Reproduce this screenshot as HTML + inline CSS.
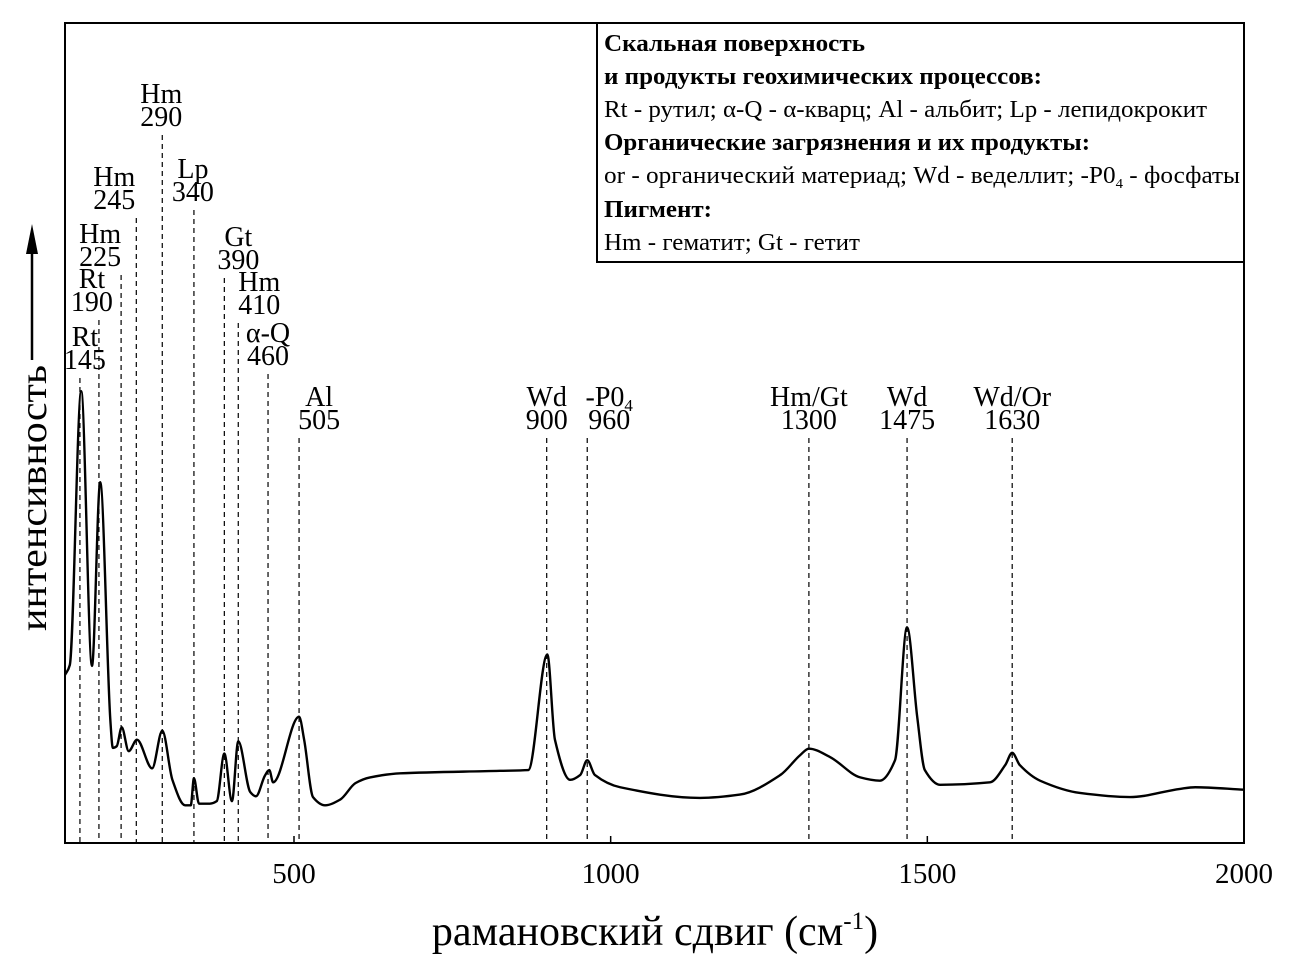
<!DOCTYPE html>
<html><head><meta charset="utf-8"><style>
body{margin:0;background:#fff;}
svg{display:block;font-family:"Liberation Serif",serif;}
</style></head><body>
<svg id="chart" width="1289" height="972" viewBox="0 0 1289 972">
<rect x="65" y="23" width="1179" height="820" fill="none" stroke="#000" stroke-width="2"/>
<g id="peaks"></g>
<path id="spec" fill="none" stroke="#000" stroke-width="2.4"/>
<g id="xt"></g>
<text x="655" y="945" text-anchor="middle" font-size="42">рамановский сдвиг (см<tspan font-size="25" dy="-16">-1</tspan><tspan dy="16">)</tspan></text>
<g>
<text transform="translate(46,631) rotate(-90)" font-size="38" textLength="266" lengthAdjust="spacingAndGlyphs">интенсивность</text>
<line x1="32" y1="360" x2="32" y2="250" stroke="#000" stroke-width="2.5"/>
<polygon points="26,254 38,254 32,224" fill="#000"/>
</g>
<g>
<rect x="597" y="23" width="647" height="239" fill="#fff" stroke="#000" stroke-width="2"/>
<g font-size="24">
<text x="604" y="51" font-weight="bold" textLength="261" lengthAdjust="spacingAndGlyphs">Скальная поверхность</text>
<text x="604" y="84" font-weight="bold" textLength="438" lengthAdjust="spacingAndGlyphs">и продукты геохимических процессов:</text>
<text x="604" y="117" textLength="603" lengthAdjust="spacingAndGlyphs">Rt - рутил; α-Q - α-кварц; Al - альбит; Lp - лепидокрокит</text>
<text x="604" y="150" font-weight="bold" textLength="486" lengthAdjust="spacingAndGlyphs">Органические загрязнения и их продукты:</text>
<text x="604" y="183" textLength="636" lengthAdjust="spacingAndGlyphs">or - органический материад; Wd - веделлит; -P0<tspan font-size="14" dy="5">4</tspan><tspan dy="-5"> - фосфаты</tspan></text>
<text x="604" y="217" font-weight="bold" textLength="108" lengthAdjust="spacingAndGlyphs">Пигмент:</text>
<text x="604" y="250" textLength="256" lengthAdjust="spacingAndGlyphs">Hm - гематит; Gt - гетит</text>
</g></g>
</svg>
<script>
const wavenumbers=[138.5,146,164,181,194,210,214,220,228,239,252,276,292,308,328,337,342,350,367,378,390,402,412,431,440,454,461,467,508,516,530,549,573,597,620,668,825,870,900,912,936,952,963,975,1015,1141,1204,1268,1299,1313,1346,1394,1425,1449,1468,1484,1496,1520,1599,1623,1634,1646,1678,1741,1820,1899,1923,2000];
const intensities=[20.5,21.7,55.1,21.6,44.0,15.0,11.6,11.8,14.1,11.2,12.6,9.1,13.7,7.7,4.6,4.6,7.9,4.8,4.8,5.1,10.9,5.1,12.4,6.2,5.7,8.2,8.9,7.4,15.4,12.6,5.6,4.6,5.3,7.3,8.0,8.5,8.8,8.9,23.0,12.6,7.7,8.3,10.1,8.3,6.8,5.5,5.9,8.3,10.7,11.5,10.5,8.0,7.6,10.1,26.3,15.4,8.9,7.1,7.4,9.5,11.0,9.5,7.6,6.1,5.6,6.6,6.8,6.5];
const peakNames=["Rt","Rt","Hm","Hm","Hm","Lp","Gt","Hm","α-Q","Al","Wd","-P0","Hm/Gt","Wd","Wd/Or"];
const peakLabels=["145","190","225","245","290","340","390","410","460","505","900","960","1300","1475","1630"];
const peakPos=[162,192,227,251,292,342,390,412,459,508,899,963,1313,1468,1634];
const xTicks=[500,1000,1500,2000];
// layout for labels (pixel offsets / baselines)
const labelDx=[5,-7,-21,-22,-1,-1,14,21,0,20,0,22,0,0,0];
const labelY=[346,288,243,186,103,178,246,291,342,406,406,406,406,406,406];
const NS="http://www.w3.org/2000/svg";
const X=v=>294+(v-500)*0.63333;
const Y=i=>843-i*8.2;
const pk=document.getElementById('peaks');
for(let k=0;k<peakPos.length;k++){
  const x=X(peakPos[k]);
  const ln=document.createElementNS(NS,'line');
  
  
  ln.setAttribute('x1',x);ln.setAttribute('x2',x);
  ln.setAttribute('y1',labelY[k]+32);ln.setAttribute('y2',843);
  ln.setAttribute('stroke','#000');ln.setAttribute('stroke-width','1.2');ln.setAttribute('stroke-dasharray','5,4');
  pk.appendChild(ln);
  const cx=x+labelDx[k];
  const t1=document.createElementNS(NS,'text');
  
  
  t1.setAttribute('x',cx);t1.setAttribute('y',labelY[k]);t1.setAttribute('text-anchor','middle');t1.setAttribute('font-size','28');
  t1.textContent=peakNames[k];
  if(peakNames[k]==='-P0'){const s=document.createElementNS(NS,'tspan');s.setAttribute('font-size','17');s.setAttribute('dy','5');s.textContent='4';t1.appendChild(s);}
  pk.appendChild(t1);
  const t2=document.createElementNS(NS,'text');
  
  
  t2.setAttribute('x',cx);t2.setAttribute('y',labelY[k]+23);t2.setAttribute('text-anchor','middle');t2.setAttribute('font-size','28');
  t2.textContent=peakLabels[k];
  pk.appendChild(t2);
}
// monotone cubic interpolation
const xs=wavenumbers.map(X), ys=intensities.map(Y), n=xs.length;
const dk=[],m=[];
for(let i=0;i<n-1;i++)dk.push((ys[i+1]-ys[i])/(xs[i+1]-xs[i]));
m[0]=dk[0];m[n-1]=dk[n-2];
for(let i=1;i<n-1;i++){m[i]=(dk[i-1]*dk[i]<=0)?0:2/(1/dk[i-1]+1/dk[i]);}
let d='M'+xs[0]+','+ys[0];
for(let i=0;i<n-1;i++){
  const h=(xs[i+1]-xs[i])/3;
  d+=' C'+(xs[i]+h)+','+(ys[i]+m[i]*h)+' '+(xs[i+1]-h)+','+(ys[i+1]-m[i+1]*h)+' '+xs[i+1]+','+ys[i+1];
}
document.getElementById('spec').setAttribute('d',d);
const xt=document.getElementById('xt');
xTicks.forEach(v=>{
  const x=X(v);
  const tk=document.createElementNS(NS,'line');
  
  
  tk.setAttribute('x1',x);tk.setAttribute('x2',x);tk.setAttribute('y1',843);tk.setAttribute('y2',836);tk.setAttribute('stroke','#000');tk.setAttribute('stroke-width','1.5');
  xt.appendChild(tk);
  const tl=document.createElementNS(NS,'text');
  
  
  tl.setAttribute('x',x);tl.setAttribute('y',883);tl.setAttribute('text-anchor','middle');tl.setAttribute('font-size','29');
  tl.textContent=v;
  xt.appendChild(tl);
});
</script>
</body></html>
